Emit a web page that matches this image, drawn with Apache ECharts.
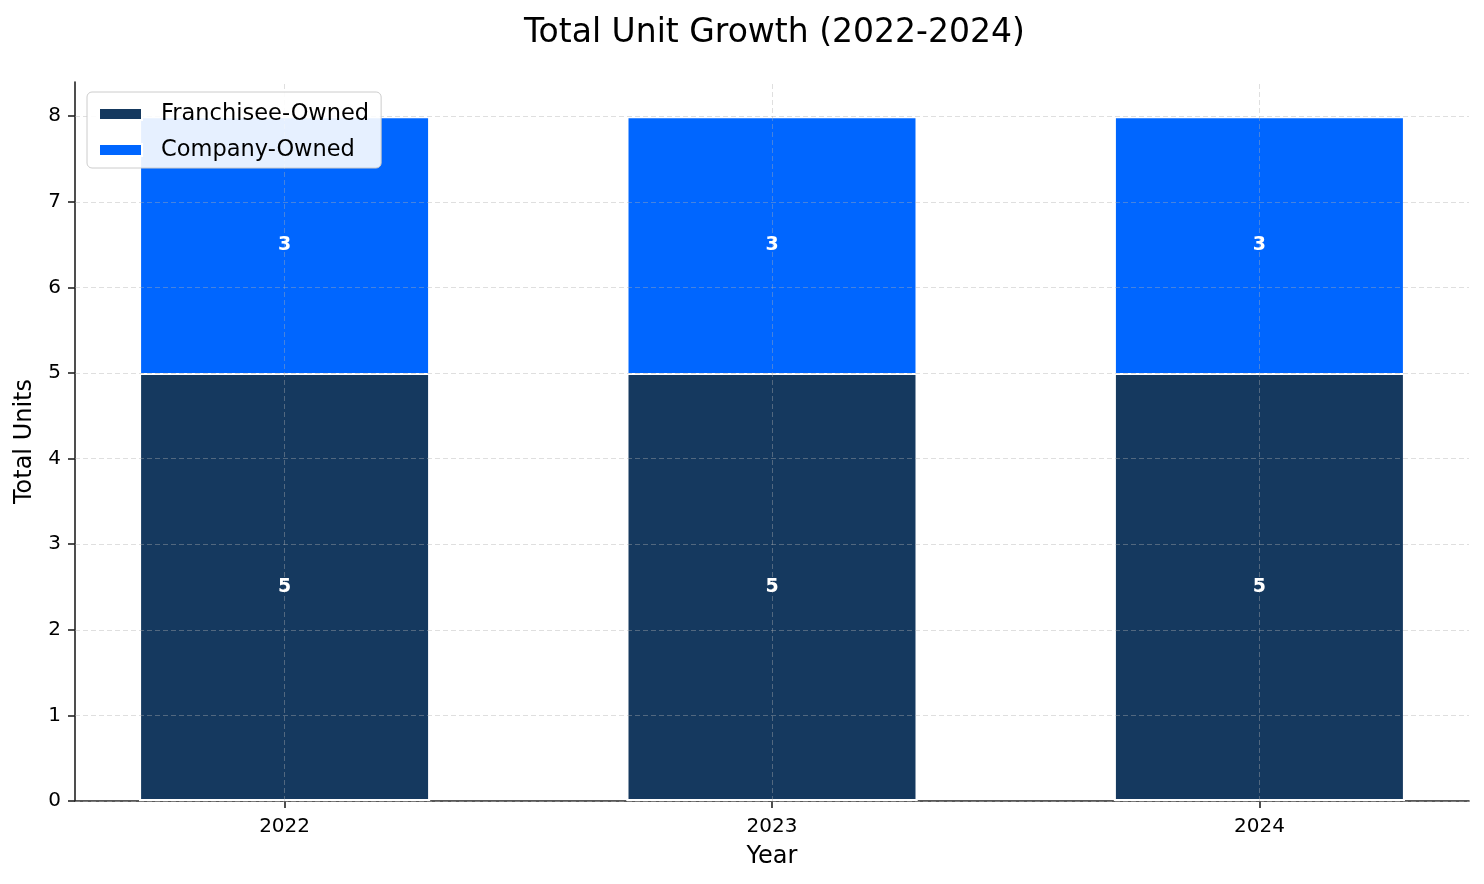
<!DOCTYPE html>
<html><head><meta charset="utf-8">
<script src="https://cdn.jsdelivr.net/npm/echarts@6/dist/echarts.min.js"></script>
<style>html,body{margin:0;padding:0;background:#fff}#c{width:1484px;height:884px}</style>
</head><body><div id="c"></div>
<script>
const years = ['2022', '2023', '2024'];
const franchisee = [5, 5, 5];
const company = [3, 3, 3];
const yTicks = [0, 1, 2, 3, 4, 5, 6, 7, 8];
const xTicks = [0, 1, 2];

const font = 'DejaVu Sans';
const gridStyle = {color: 'rgba(176,176,176,0.4)', type: [5, 3], width: 1};
const markLines = yTicks.map(v => ({yAxis: v})).concat(xTicks.map(v => ({xAxis: v})));

const totals = franchisee.map((v, i) => v + company[i]);

// label anchor points: [x, y-center of segment, shown value]
const labelPoints = franchisee.map((v, i) => [xTicks[i], v / 2, v])
  .concat(company.map((v, i) => [xTicks[i], franchisee[i] + v / 2, v]));

const chart = echarts.init(document.getElementById('c'));
chart.setOption({
  animation: false,
  textStyle: {fontFamily: font},
  title: {text: 'Total Unit Growth (2022-2024)', left: 519, top: 12,
    textStyle: {fontFamily: font, fontSize: 33, fontWeight: 'normal', color: '#000'}},
  legend: {
    z: 10,
    orient: 'vertical', left: 87, top: 92, icon: 'rect', itemWidth: 43, itemHeight: 12, itemGap: 12,
    padding: [10, 12, 6, 11],
    backgroundColor: 'rgba(255,255,255,0.9)', borderColor: '#cccccc', borderWidth: 1, borderRadius: 5,
    textStyle: {fontFamily: font, fontSize: 22.5, lineHeight: 24, color: '#000', padding: [0, 0, 0, 14]},
    data: ['Franchisee-Owned', 'Company-Owned']
  },
  grid: {left: 75, right: 15, top: 82, bottom: 83, containLabel: false},
  xAxis: {
    type: 'value', min: -0.43, max: 2.43,
    name: 'Year', nameLocation: 'middle', nameGap: 44,
    nameTextStyle: {fontFamily: font, fontSize: 24, color: '#000'},
    axisLine: {show: true, onZero: false, lineStyle: {color: '#222', width: 1.6}},
    axisTick: {show: true, customValues: xTicks, length: 7, lineStyle: {color: '#222', width: 1.6}},
    axisLabel: {customValues: xTicks, formatter: v => years[Math.round(v)] || '', fontSize: 20, color: '#000', margin: 16, fontFamily: font},
    splitLine: {show: false}
  },
  yAxis: {
    type: 'value', min: 0, max: 8.4,
    name: 'Total Units', nameLocation: 'middle', nameGap: 38, nameRotate: 90,
    nameTextStyle: {fontFamily: font, fontSize: 24, color: '#000'},
    axisLine: {show: true, onZero: false, lineStyle: {color: '#222', width: 1.6}},
    axisTick: {show: true, customValues: yTicks, length: 7, lineStyle: {color: '#222', width: 1.6}},
    axisLabel: {customValues: yTicks, fontSize: 20, color: '#000', margin: 14, fontFamily: font},
    splitLine: {show: false}
  },
  series: [
    {
      name: 'Company-Owned', type: 'bar', barWidth: 291, barGap: '-100%',
      data: totals.map((v, i) => [xTicks[i], v]),
      itemStyle: {color: '#0066FF', borderColor: '#ffffff', borderWidth: 2},
      markLine: {silent: true, z: 3, symbol: 'none', label: {show: false}, lineStyle: gridStyle, data: markLines}
    },
    {
      name: 'Franchisee-Owned', type: 'bar', barWidth: 291, barGap: '-100%',
      data: franchisee.map((v, i) => [xTicks[i], v]),
      itemStyle: {color: '#15395F', borderColor: '#ffffff', borderWidth: 2}
    },
    {
      name: 'segmentLabels', type: 'custom', z: 8, silent: true,
      data: labelPoints,
      encode: {x: 0, y: 1},
      renderItem: (params, api) => {
        const pt = api.coord([api.value(0), api.value(1)]);
        return {
          type: 'text', x: pt[0], y: pt[1], z2: 100,
          style: {text: String(api.value(2)), fill: '#ffffff', opacity: 1,
            font: 'bold 19px "DejaVu Sans"', align: 'center', verticalAlign: 'middle'}
        };
      }
    }
  ]
});
</script></body></html>
